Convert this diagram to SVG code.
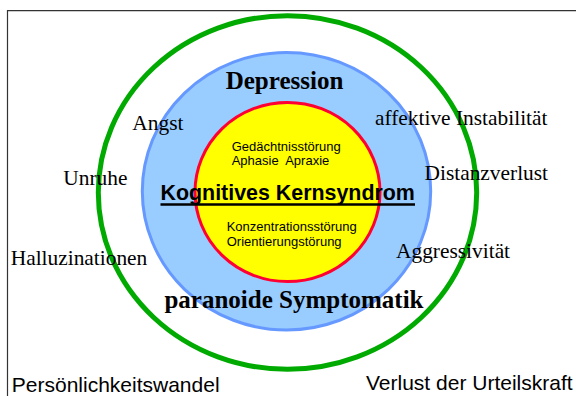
<svg xmlns="http://www.w3.org/2000/svg" width="576" height="396" viewBox="0 0 576 396">
  <style>
    .frame { fill: none; stroke: #333333; stroke-width: 1.2; }
    .ring-outer { fill: none; stroke: #00AA00; stroke-width: 5; }
    .ring-mid { fill: #99CCFF; stroke: #6699FF; stroke-width: 3; }
    .ring-core { fill: #FFFF00; stroke: #FF0033; stroke-width: 3; }
    .serif { font-family: "Liberation Serif", "Times New Roman", serif; font-size: 21.4px; fill: #000; }
    .serif-bold { font-family: "Liberation Serif", "Times New Roman", serif; font-size: 25px; font-weight: bold; fill: #000; text-anchor: middle; }
    .sans { font-family: "Liberation Sans", Arial, sans-serif; fill: #000; }
    .small { font-size: 13px; }
    .bottom { font-size: 21px; }
    .core-title { font-family: "Liberation Sans", Arial, sans-serif; font-size: 21.4px; font-weight: bold; fill: #000; }
  </style>

  <!-- page frame (top and left edges) -->
  <path class="frame" d="M7.5 396 V10.7 H576"/>

  <!-- outer ring -->
  <g id="outer-ring">
    <ellipse class="ring-outer" cx="287.5" cy="192.5" rx="189.2" ry="176.8"/>
  </g>

  <!-- middle ring: affective symptoms -->
  <g id="middle-ring">
    <ellipse class="ring-mid" cx="286.5" cy="191.2" rx="144.2" ry="138.8"/>
    <text class="serif-bold" x="284.5" y="89">Depression</text>
    <text class="serif-bold" x="294" y="308">paranoide Symptomatik</text>
  </g>

  <!-- core: cognitive syndrome -->
  <g id="core">
    <ellipse class="ring-core" cx="287.5" cy="192" rx="92.5" ry="89.6"/>
    <text class="sans small" x="231.7" y="150.7">Gedächtnisstörung</text>
    <text class="sans small" x="231.7" y="165" xml:space="preserve">Aphasie  Apraxie</text>
    <text class="core-title" x="160.5" y="200">Kognitives Kernsyndrom</text>
    <line x1="160.5" y1="204.5" x2="415" y2="204.5" stroke="#000" stroke-width="2.4"/>
    <text class="sans small" x="226.7" y="230.7">Konzentrationsstörung</text>
    <text class="sans small" x="226.7" y="245.7">Orientierungstörung</text>
  </g>

  <!-- surrounding symptom labels -->
  <g id="label-angst"><text class="serif" x="132.3" y="130">Angst</text></g>
  <g id="label-unruhe"><text class="serif" x="63.3" y="184.5">Unruhe</text></g>
  <g id="label-halluzinationen"><text class="serif" x="10.7" y="264.5">Halluzinationen</text></g>
  <g id="label-affektive"><text class="serif" x="375" y="125">affektive Instabilität</text></g>
  <g id="label-distanzverlust"><text class="serif" x="424.5" y="180">Distanzverlust</text></g>
  <g id="label-aggressivitaet"><text class="serif" x="396" y="258.3">Aggressivität</text></g>
  <g id="label-persoenlichkeit"><text class="sans bottom" x="11.8" y="392">Persönlichkeitswandel</text></g>
  <g id="label-urteilskraft"><text class="sans bottom" x="366" y="390">Verlust der Urteilskraft</text></g>

  <g id="connectors"/>
</svg>
